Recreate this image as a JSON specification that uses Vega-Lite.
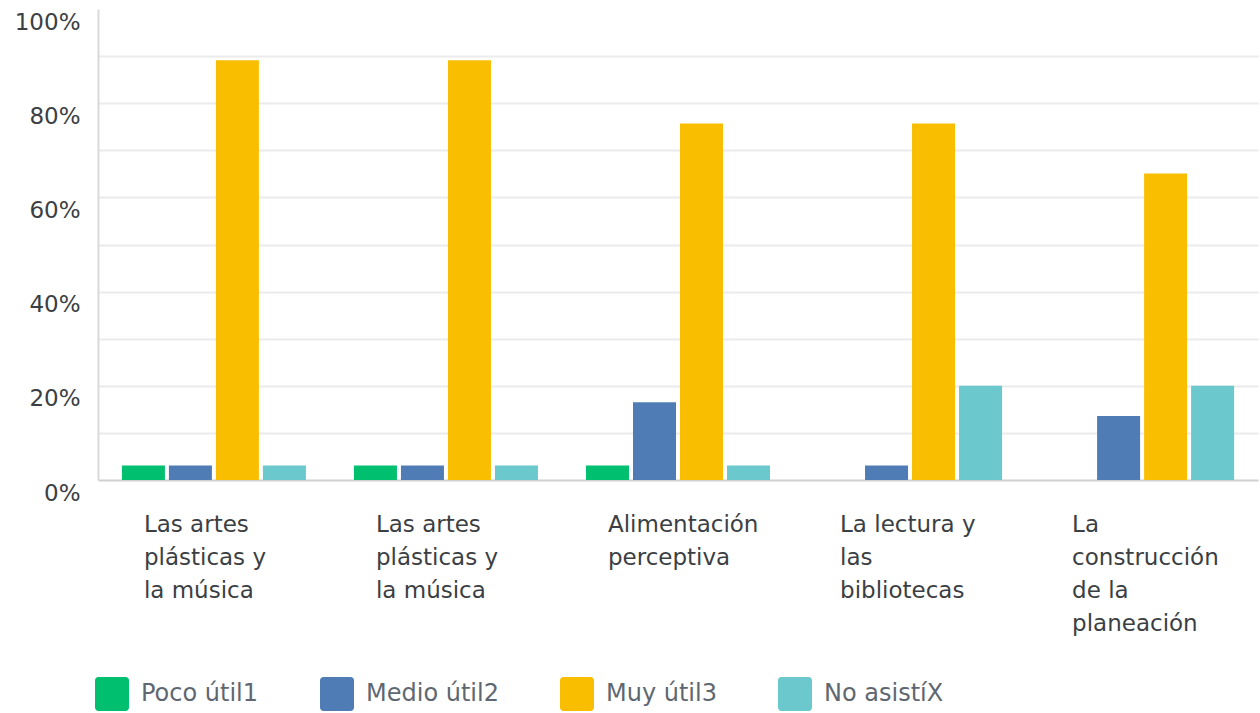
{
  "$schema": "https://vega.github.io/schema/vega-lite/v6.json",
  "autosize": {"type": "none"},
  "padding": {"left": 98, "top": 9, "right": 2, "bottom": 233},
  "width": 1160,
  "height": 471,
  "background": "white",
  "config": {
    "view": {"stroke": null},
    "font": "DejaVu Sans"
  },
  "data": {
    "values": [
      {"grupo": 1, "tema": "Las artes|plásticas y|la música", "respuesta": "Poco útil1", "pct": 0.031},
      {"grupo": 1, "tema": "Las artes|plásticas y|la música", "respuesta": "Medio útil2", "pct": 0.031},
      {"grupo": 1, "tema": "Las artes|plásticas y|la música", "respuesta": "Muy útil3", "pct": 0.891},
      {"grupo": 1, "tema": "Las artes|plásticas y|la música", "respuesta": "No asistíX", "pct": 0.031},
      {"grupo": 2, "tema": "Las artes|plásticas y|la música", "respuesta": "Poco útil1", "pct": 0.031},
      {"grupo": 2, "tema": "Las artes|plásticas y|la música", "respuesta": "Medio útil2", "pct": 0.031},
      {"grupo": 2, "tema": "Las artes|plásticas y|la música", "respuesta": "Muy útil3", "pct": 0.891},
      {"grupo": 2, "tema": "Las artes|plásticas y|la música", "respuesta": "No asistíX", "pct": 0.031},
      {"grupo": 3, "tema": "Alimentación|perceptiva", "respuesta": "Poco útil1", "pct": 0.031},
      {"grupo": 3, "tema": "Alimentación|perceptiva", "respuesta": "Medio útil2", "pct": 0.165},
      {"grupo": 3, "tema": "Alimentación|perceptiva", "respuesta": "Muy útil3", "pct": 0.757},
      {"grupo": 3, "tema": "Alimentación|perceptiva", "respuesta": "No asistíX", "pct": 0.031},
      {"grupo": 4, "tema": "La lectura y|las|bibliotecas", "respuesta": "Medio útil2", "pct": 0.031},
      {"grupo": 4, "tema": "La lectura y|las|bibliotecas", "respuesta": "Muy útil3", "pct": 0.757},
      {"grupo": 4, "tema": "La lectura y|las|bibliotecas", "respuesta": "No asistíX", "pct": 0.2},
      {"grupo": 5, "tema": "La|construcción|de la|planeación", "respuesta": "Medio útil2", "pct": 0.136},
      {"grupo": 5, "tema": "La|construcción|de la|planeación", "respuesta": "Muy útil3", "pct": 0.651},
      {"grupo": 5, "tema": "La|construcción|de la|planeación", "respuesta": "No asistíX", "pct": 0.2}
    ]
  },
  "mark": {"type": "bar"},
  "encoding": {
    "x": {
      "field": "grupo",
      "type": "ordinal",
      "scale": {"paddingInner": 0.207, "paddingOuter": 0.103},
      "axis": {
        "title": null,
        "labelExpr": "split(['', 'Las artes|plásticas y|la música', 'Las artes|plásticas y|la música', 'Alimentación|perceptiva', 'La lectura y|las|bibliotecas', 'La|construcción|de la|planeación'][datum.value], '|')",
        "labelAngle": 0,
        "labelAlign": "left",
        "labelBaseline": "top",
        "labelOffset": -70,
        "labelPadding": 33,
        "labelFontSize": 23,
        "labelLineHeight": 33,
        "labelColor": "#3b3f44",
        "ticks": false,
        "domainColor": "#cfcfcf",
        "domainWidth": 2,
        "grid": false
      }
    },
    "xOffset": {
      "field": "respuesta",
      "type": "nominal",
      "scale": {
        "domain": ["Poco útil1", "Medio útil2", "Muy útil3", "No asistíX"],
        "paddingInner": 0.085,
        "paddingOuter": 0
      }
    },
    "y": {
      "field": "pct",
      "type": "quantitative",
      "scale": {"domain": [0, 1], "nice": false},
      "axis": {
        "title": null,
        "values": [0, 0.1, 0.2, 0.3, 0.4, 0.5, 0.6, 0.7, 0.8, 0.9, 1],
        "format": ".0%",
        "labelExpr": "round(datum.value * 100) % 20 == 0 ? datum.label : ''",
        "labelBaseline": "top",
        "labelOffset": 2,
        "labelPadding": 18,
        "labelFontSize": 23,
        "labelColor": "#3b3f44",
        "ticks": false,
        "domainColor": "#dadada",
        "domainWidth": 2,
        "gridColor": "#ebebeb",
        "gridWidth": 2,
        "gridOpacity": {"condition": {"test": "datum.value >= 1 || datum.value <= 0", "value": 0}, "value": 1}
      }
    },
    "color": {
      "field": "respuesta",
      "type": "nominal",
      "scale": {
        "domain": ["Poco útil1", "Medio útil2", "Muy útil3", "No asistíX"],
        "range": ["#00bf6f", "#507cb6", "#f9be00", "#6bc8cd"]
      },
      "legend": {
        "title": null,
        "orient": "none",
        "direction": "horizontal",
        "legendX": -3,
        "legendY": 668,
        "symbolType": "M-0.8,-1H0.8A0.2,0.2 0 0 1 1,-0.8V0.8A0.2,0.2 0 0 1 0.8,1H-0.8A0.2,0.2 0 0 1 -1,0.8V-0.8A0.2,0.2 0 0 1 -0.8,-1Z",
        "symbolSize": 1156,
        "symbolStrokeWidth": 0,
        "symbolOpacity": 1,
        "labelFontSize": 24,
        "labelColor": "#5f6770",
        "labelOffset": 12,
        "columnPadding": 61,
        "labelLimit": 300
      }
    }
  }
}
